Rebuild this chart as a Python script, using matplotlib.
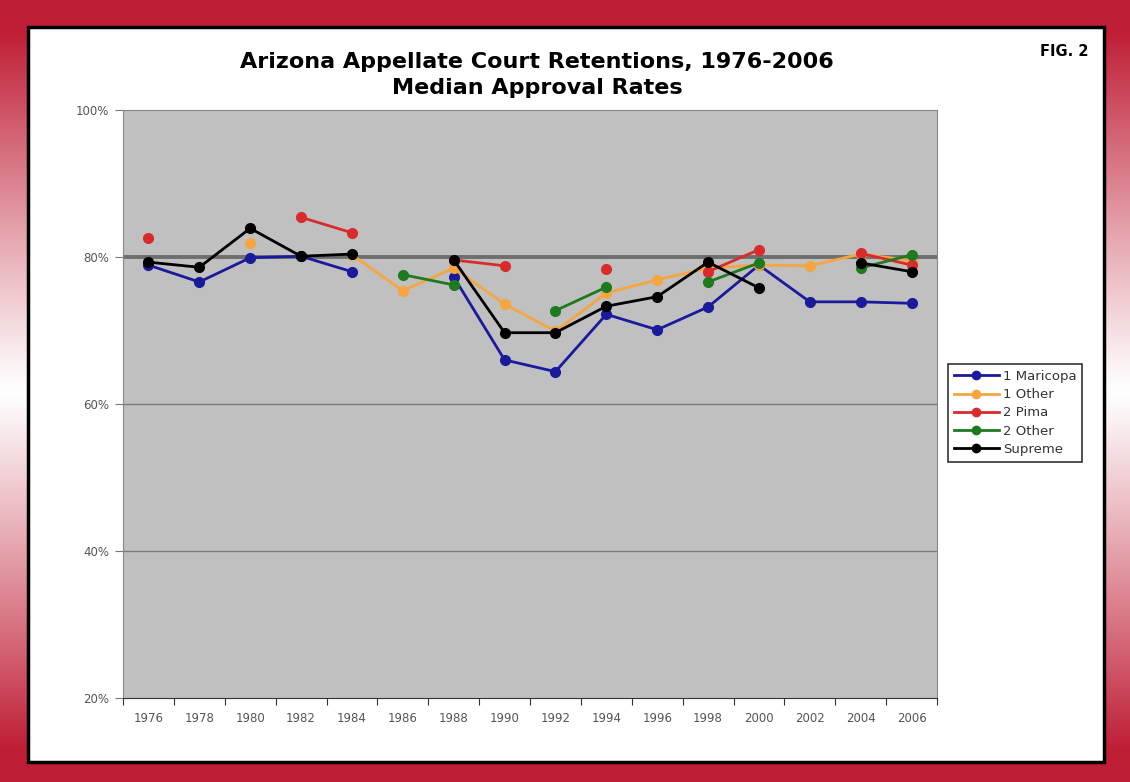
import numpy as np
import matplotlib.pyplot as plt
from matplotlib.patches import Rectangle
from matplotlib.lines import Line2D

nan = np.nan
years = [str(y) for y in range(1976, 2008, 2)]

maricopa_1 = [78.9, 76.6, 79.9, 80.1, 78.0, nan, 77.3, 66.0, 64.4, 72.2, 70.1, 73.2, 78.9, 73.9, 73.9, 73.7]
other_1 = [nan, nan, 81.9, nan, 80.3, 75.4, 78.5, 73.6, 69.9, 75.1, 76.9, 78.5, 78.9, 78.8, 80.4, 79.5]
pima_2 = [82.6, nan, nan, 85.4, 83.3, nan, 79.6, 78.8, nan, 78.4, nan, 78.0, 81.0, nan, 80.5, 78.9]
other_2 = [nan, nan, nan, nan, nan, 77.6, 76.2, nan, 72.7, 75.9, nan, 76.6, 79.2, nan, 78.5, 80.3]
supreme = [79.3, 78.6, 83.9, 80.1, 80.4, nan, 79.6, 69.7, 69.7, 73.3, 74.6, 79.3, 75.8, nan, 79.2, 78.0]

series = [
    ("1 Maricopa", maricopa_1, "#1a1a9c"),
    ("1 Other", other_1, "#f5a640"),
    ("2 Pima", pima_2, "#d92b2b"),
    ("2 Other", other_2, "#1f7a1f"),
    ("Supreme", supreme, "#000000"),
]

W, H = 1130, 782
fig = plt.figure(figsize=(W / 100, H / 100), dpi=100)

# background frame: red with vertical fade to white on the sides
bg = fig.add_axes([0, 0, 1, 1])
t = np.abs(np.linspace(-1, 1, 400))
k = np.clip(t ** 1.1 * 1.1, 0, 1)
red = np.array([0.75, 0.12, 0.21])
col = 1 - k[:, None] * (1 - red[None, :])
bg.imshow(col[:, None, :], aspect="auto", extent=[0, 1, 0, 1], origin="lower")
bg.add_patch(Rectangle((0, 1 - 27 / H), 1, 27 / H, color=red, lw=0))
bg.add_patch(Rectangle((0, 0), 1, 20 / H, color=red, lw=0))
bg.add_patch(Rectangle((28 / W, 20 / H), (1104 - 28) / W, (762 - 27) / H,
                       facecolor="white", edgecolor="black", lw=2.5))
bg.set_xlim(0, 1); bg.set_ylim(0, 1)
bg.axis("off")

ax = fig.add_axes([123 / W, 1 - 698 / H, (937 - 123) / W, (698 - 110) / H])
ax.set_facecolor("#c0c0c0")
x = np.arange(len(years))
for y in [40, 60]:
    ax.axhline(y, color="#7a7a7a", lw=1, zorder=1)
ax.axhline(80, color="#6e6e6e", lw=2.8, zorder=1)

for name, vals, c in series:
    ax.plot(x, vals, color=c, lw=2, marker="o", ms=7, label=name, zorder=3)

ax.set_xlim(-0.5, len(years) - 0.5)
ax.set_ylim(20, 100)
ax.set_yticks([20, 40, 60, 80, 100])
ax.set_yticklabels([f"{v}%" for v in [20, 40, 60, 80, 100]])
ax.set_xticks(np.arange(-0.5, len(years), 1))
ax.set_xticklabels([])
ax.set_xticks(x, minor=True)
ax.set_xticklabels(years, minor=True)
ax.tick_params(axis="x", which="minor", length=0, pad=10, labelsize=8.5, labelcolor="#555555")
ax.tick_params(axis="x", which="major", length=5, color="#333333")
ax.tick_params(axis="y", length=6, color="#777777", labelsize=8.5, labelcolor="#555555", pad=4)
for s in ["top", "right", "left"]:
    ax.spines[s].set_color("#888888")
ax.spines["bottom"].set_color("#333333")

handles = [Line2D([0], [0], color=c, lw=2, marker="o", ms=6) for _, _, c in series]
leg = fig.legend(handles, [s[0] for s in series], loc="upper left",
                 bbox_to_anchor=(948 / W, 1 - 364 / H), frameon=True, fancybox=False,
                 fontsize=9.5, handlelength=3.4, handletextpad=0.3, borderpad=0.45,
                 labelspacing=0.4, borderaxespad=0)
leg.get_frame().set_edgecolor("black")
leg.get_frame().set_linewidth(1.2)
for txt in leg.get_texts():
    txt.set_color("#333333")

fig.text(537 / W, 1 - 62 / H, "Arizona Appellate Court Retentions, 1976-2006",
         ha="center", va="center", fontsize=16, fontweight="bold")
fig.text(537 / W, 1 - 88 / H, "Median Approval Rates",
         ha="center", va="center", fontsize=16, fontweight="bold")
fig.text(1089 / W, 1 - 52 / H, "FIG. 2", ha="right", va="center",
         fontsize=10.5, fontweight="bold")

fig.savefig("out.png", dpi=100)
